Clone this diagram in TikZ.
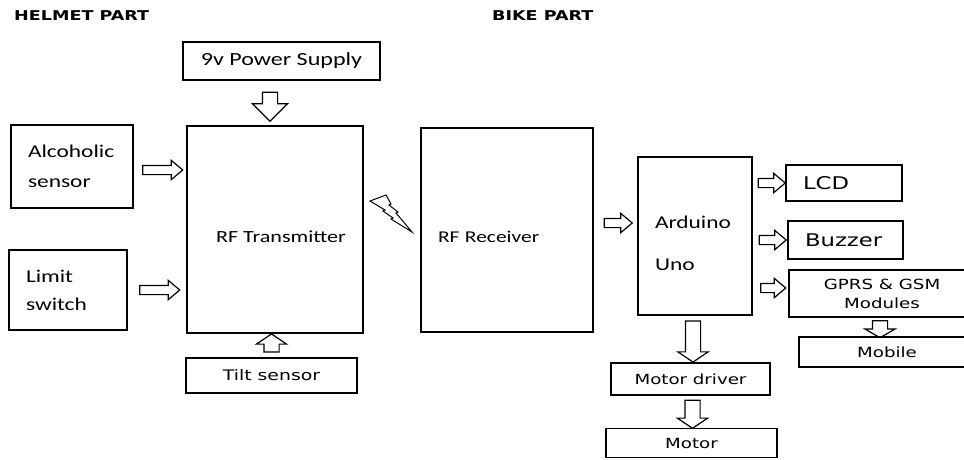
\documentclass[tikz,border=0pt]{standalone}
\usepackage{fontspec}
\setmainfont[FakeStretch=1.3]{Carlito}
\newfontfamily\vfont[FakeStretch=1.3]{DejaVu Sans}
\usetikzlibrary{shapes.arrows}
\usetikzlibrary{positioning}

\begin{document}
\begin{tikzpicture}[x=1pt,y=-1pt,
                    line width=1.8pt,
                    blk/.style={draw, inner sep=0pt, align=center},
                    lblk/.style={draw, inner xsep=17pt, inner ysep=0pt, align=left},
                    fat/.style={draw, line width=1.2pt, single arrow, inner sep=0pt,
                                minimum width=0pt, single arrow tip angle=80,
                                sloped, allow upside down, midway},
                    smallarr/.style={fat, inner ysep=4pt, single arrow head extend=5pt},
                    bigarr/.style={fat, inner ysep=7pt, single arrow head extend=7.5pt, single arrow tip angle=112},
                    cal/.style={font=\fontsize{#1}{20}\selectfont},
                    ver/.style={font=\vfont\fontsize{#1}{19}\selectfont},
                    head/.style={anchor=west, font=\vfont\bfseries\fontsize{13.5}{16}\selectfont}
                    ]
  \clip (0,0) rectangle (964,459);

  % headings
  \node[head] (helmet) at (10,16) {HELMET PART};
  \node[head] (bike) at (488,16) {BIKE PART};

  % helmet side
  \node[blk, minimum width=197, minimum height=38, cal=18.5] (pwr) at (281.5,61) {9v Power Supply};
  \node[blk, minimum width=176, minimum height=207, cal=17] (tx) at (275,229.5) {\rule{0pt}{26pt}\hspace*{12pt}RF Transmitter};
  \node[lblk, minimum width=122, minimum height=83, text width=88, font=\fontsize{18}{30}\selectfont] (alc) at (72,166.5) {Alcoholic\\sensor};
  \node[lblk, minimum width=118, minimum height=80, text width=84, font=\fontsize{18}{28}\selectfont] (lim) at (68,290) {Limit\\switch};
  \node[blk, minimum width=171, minimum height=35, ver=14.5] (tilt) at (271.5,375.5) {Tilt sensor};

  % bike side
  \node[lblk, minimum width=172, minimum height=204, text width=138, cal=16.5] (rx) at (507,230) {\rule{0pt}{26pt}RF Receiver};
  \node[lblk, minimum width=114, minimum height=158, text width=80, font=\fontsize{18}{42}\selectfont] (ard) at (695,236) {\rule{0pt}{27pt}Arduino\\Uno};
  \node[lblk, minimum width=116, minimum height=36, text width=82, ver=17.5] (lcd) at (844,183) {LCD};
  \node[lblk, minimum width=115, minimum height=38, text width=81, ver=17.5] (buz) at (845.5,240) {Buzzer};
  \node[blk, minimum width=186, minimum height=47, ver=14] (gprs) at (882,293.5) {GPRS \& GSM\\Modules};
  \node[blk, minimum width=176, minimum height=30, ver=14] (mob) at (887,352) {Mobile};
  \node[blk, minimum width=159, minimum height=32, ver=14] (md) at (690.5,379) {Motor driver};
  \node[blk, minimum width=171, minimum height=29, ver=14] (mot) at (691.5,443) {Motor};

  % hollow arrows
  \path ([yshift=-3.5pt]alc.east) -- ([yshift=-3.5pt]alc.east -| tx.west) node[smallarr, minimum height=40] {};
  \path (lim.east) -- (lim.east -| tx.west) node[smallarr, minimum height=40] {};
  \path ([xshift=-11.5pt]pwr.south) -- ([xshift=-11.5pt]pwr.south |- tx.north)
        node[bigarr, minimum height=29, single arrow head extend=10pt, single arrow tip angle=90] {};
  \path (tilt.north) -- (tilt.north |- tx.south) node[bigarr, minimum height=18] {};
  \path ([yshift=7pt]rx.east) -- ([yshift=7pt]rx.east -| ard.west) node[smallarr, minimum height=28] {};
  \path (ard.east |- lcd.west) -- (lcd.west) node[smallarr, minimum height=27] {};
  \path (ard.east |- buz.west) -- (buz.west) node[smallarr, minimum height=27] {};
  \path ([yshift=5.5pt]ard.east |- gprs.west) -- ([yshift=5.5pt]gprs.west) node[smallarr, minimum height=25] {};
  \path ([xshift=-2pt]ard.south) -- ([xshift=-2pt]ard.south |- md.north) node[bigarr, minimum height=41] {};
  \path ([xshift=2pt]md.south) -- ([xshift=2pt]md.south |- mot.north) node[bigarr, minimum height=28] {};
  \path ([xshift=-2pt]gprs.south) -- ([xshift=-2pt]gprs.south |- mob.north) node[bigarr, minimum height=17, single arrow tip angle=120] {};

  % wireless link
  \draw[line width=1pt, line join=miter] (370,201) -- (386,195) -- (391,204) -- (389,205) -- (398,212) -- (396,213)
        -- (412,232) -- (391,219) -- (393,218) -- (383,211) -- (385,210) -- cycle;
\end{tikzpicture}
\end{document}
